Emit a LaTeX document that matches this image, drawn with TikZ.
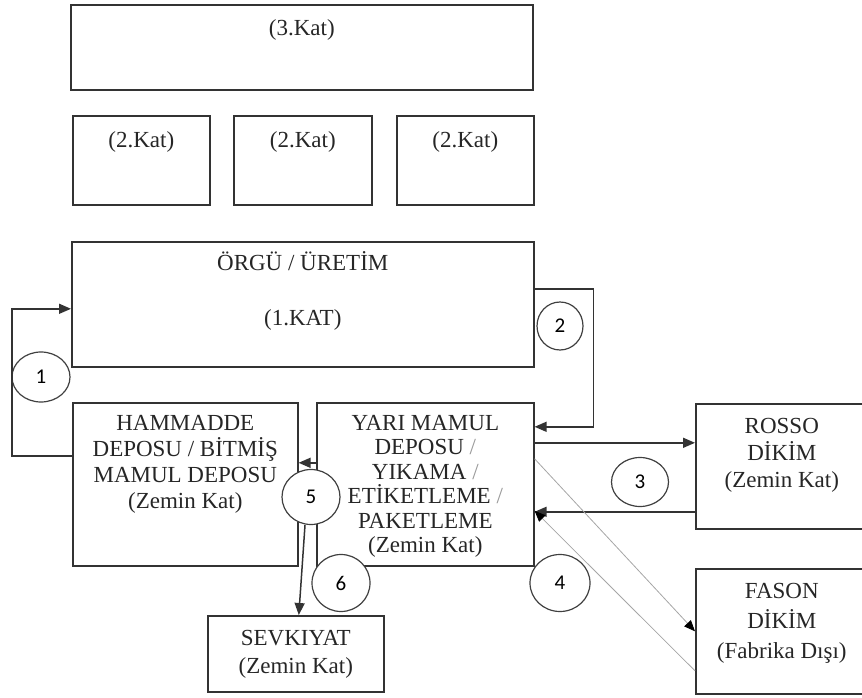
\documentclass[tikz,border=0pt]{standalone}
\usepackage{fontspec}
\setmainfont{Liberation Serif}
\newfontfamily\rakam{Carlito}
\usepackage{tikz}
\usetikzlibrary{arrows.meta, positioning, shapes.geometric, calc}
\newcommand{\yazifont}[1]{\fontsize{23}{#1}\selectfont}

\begin{document}
\begin{tikzpicture}[x=1pt, y=-1pt,
    kutu/.style={rectangle, draw=black!80, line width=1.6pt, anchor=north west, inner sep=0pt},
    yazi/.style={align=center, inner sep=0pt, text=black!85, font=\yazifont{26}},
    daire/.style={ellipse, draw=black!75, fill=white, line width=1.2pt, minimum width=58pt, minimum height=52pt,
                  inner sep=0pt, font=\rakam\fontsize{21}{21}\selectfont},
    ok/.style={draw=black!80, line width=1.5pt, -{Triangle[length=12pt, width=10pt]}},
    gri/.style={draw=black!35, line width=0.8pt, -{Triangle[length=11pt, width=9pt, black]}}
]
\clip (0,0) rectangle (862,698);

\node[kutu, minimum width=462pt, minimum height=85pt] (kat3) at (70,4) {};
\node[kutu, minimum width=137pt, minimum height=89pt] (kat2a) at (72,115) {};
\node[kutu, minimum width=138pt, minimum height=89pt] (kat2b) at (233,115) {};
\node[kutu, minimum width=137pt, minimum height=89pt] (kat2c) at (396,115) {};
\node[kutu, minimum width=462pt, minimum height=125pt] (orgu) at (71,241) {};
\node[kutu, minimum width=225pt, minimum height=163pt] (ham) at (72,402) {};
\node[kutu, minimum width=217pt, minimum height=163pt] (yari) at (316,402) {};
\node[kutu, minimum width=172pt, minimum height=125pt] (rosso) at (695,403) {};
\node[kutu, minimum width=172pt, minimum height=125pt] (fason) at (695,568) {};
\node[kutu, minimum width=176pt, minimum height=76pt] (sevk) at (207,615) {};

\node[yazi, below=15pt of kat3.north] (kat3t) {(3.Kat)};
\node[yazi, below=16pt of kat2a.north] (kat2at) {(2.Kat)};
\node[yazi, below=16pt of kat2b.north] (kat2bt) {(2.Kat)};
\node[yazi, below=16pt of kat2c.north] (kat2ct) {(2.Kat)};
\node[yazi, below=10pt of orgu.north] (orgut) {ÖRGÜ / ÜRETİM\\[29pt](1.KAT)};
\node[yazi, below=13pt of ham.north] (hamt) {HAMMADDE\\DEPOSU / BİTMİŞ\\MAMUL DEPOSU\\(Zemin Kat)};
\node[yazi, font=\yazifont{24.5}, below=13pt of yari.north] (yarit)
    {YARI MAMUL\\DEPOSU \textcolor{black!40}{/}\\YIKAMA \textcolor{black!40}{/}\\ETİKETLEME \textcolor{black!40}{/}\\PAKETLEME\\(Zemin Kat)};
\node[yazi, font=\yazifont{27}, below=15pt of rosso.north] (rossot) {ROSSO\\DİKİM\\(Zemin Kat)};
\node[yazi, font=\yazifont{30}, below=15pt of fason.north] (fasont) {FASON\\DİKİM\\(Fabrika Dışı)};
\node[yazi, font=\yazifont{28}, below=15pt of sevk.north] (sevkt) {SEVKIYAT\\(Zemin Kat)};

\node[daire, minimum width=58pt, minimum height=50pt] (c1) at (41,377) {1};
\node[daire, minimum width=46pt, minimum height=48pt] (c2) at (560,326) {2};
\node[daire, minimum width=57pt, minimum height=49pt] (c3) at (640,482) {3};
\node[daire, minimum width=60pt, minimum height=57pt] (c4) at (560,583) {4};
\node[daire, minimum width=58pt, minimum height=55pt] (c5) at (311,497) {5};
\node[daire, minimum width=58pt, minimum height=57pt] (c6) at (341,583) {6};

\draw[ok] ([yshift=28.5pt]ham.west) -- ++(-60,0) |- ([yshift=-4.5pt]orgu.west);
\draw[ok] ([yshift=15.5pt]orgu.east) -- ++(59,0) |- ([yshift=57.5pt]yari.east);
\draw[ok] ([yshift=41.5pt]yari.east) -- ([yshift=41.5pt]yari.east -| rosso.west);
\draw[ok] ([yshift=-45.5pt]rosso.west) -- ([yshift=-45.5pt]rosso.west -| yari.east);
\draw[gri] ([yshift=25.5pt]yari.east) -- (fason.west);
\draw[gri] ([yshift=-39.5pt]fason.west) -- ([yshift=-26.5pt]yari.east);
\draw[ok] ([yshift=21.5pt]yari.west) -- ([yshift=21.5pt]yari.west -| ham.east);
\draw[ok] ([xshift=-6pt]c5.south) -- ([xshift=3pt]sevk.north);
\end{tikzpicture}
\end{document}
